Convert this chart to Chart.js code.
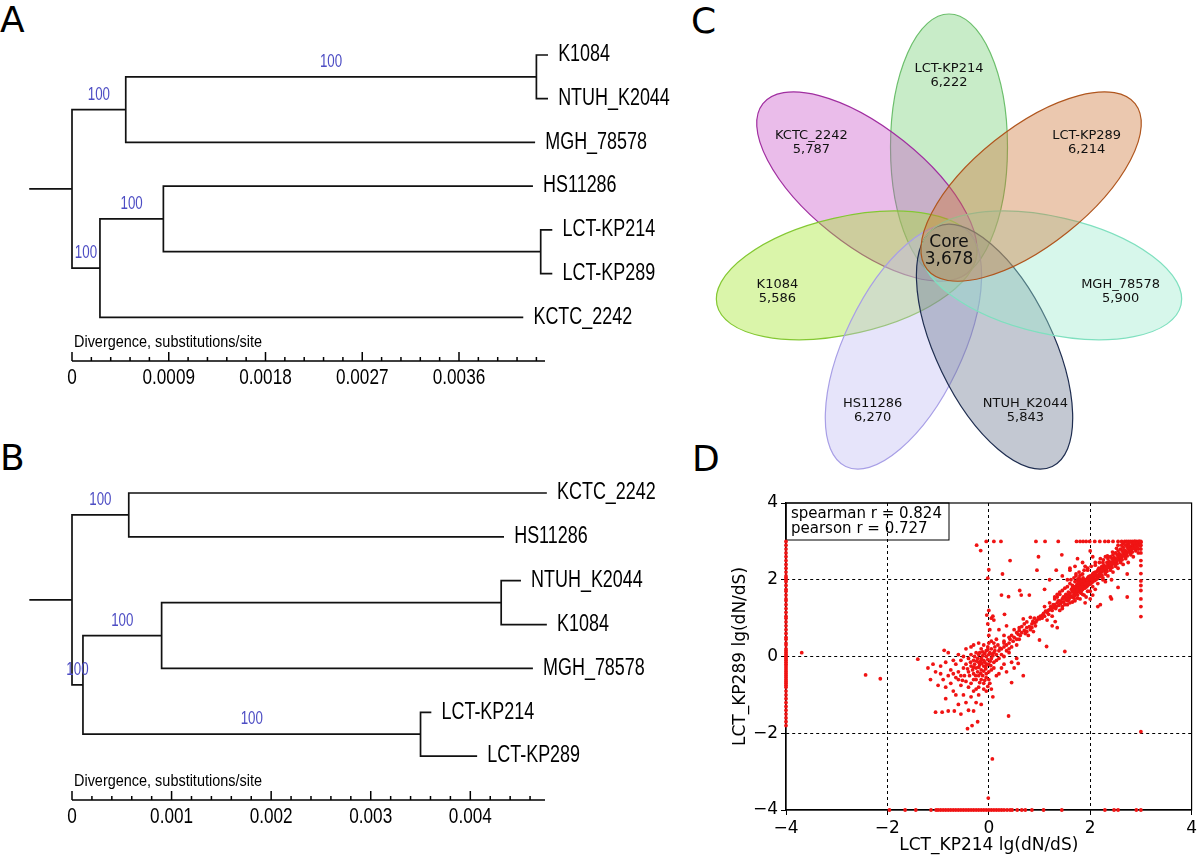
<!DOCTYPE html>
<html>
<head>
<meta charset="utf-8">
<script src="https://cdn.jsdelivr.net/npm/chart.js@4.4.1/dist/chart.umd.min.js"></script>
<style>
  body { margin: 0; background: #fff; width: 1200px; height: 856px; position: relative; overflow: hidden; }
  canvas { position: absolute; }
  .tag { position: absolute; font: 36px/36px "DejaVu Sans", sans-serif; color: #000; }
</style>
</head>
<body>
<div class="tag" style="left:0;top:2px">A</div>
<div class="tag" style="left:0;top:440px">B</div>
<div class="tag" style="left:691px;top:3px">C</div>
<div class="tag" style="left:692px;top:441px">D</div>
<canvas id="treeA" width="690" height="430" style="left:0;top:0"></canvas>
<canvas id="treeB" width="690" height="426" style="left:0;top:430px"></canvas>
<canvas id="venn" width="510" height="470" style="left:690px;top:0"></canvas>
<canvas id="scatter" width="510" height="386" style="left:690px;top:470px"></canvas>
<script>
// ---- data ----
// A: trees, leaves top to bottom, tip depth in substitutions/site
const namesA = ['K1084', 'NTUH_K2044', 'MGH_78578', 'HS11286', 'LCT-KP214', 'LCT-KP289', 'KCTC_2242'];
const tipsA = [0.00442, 0.00442, 0.00430, 0.00428, 0.00446, 0.00446, 0.00419];
// internal nodes: [depth, child, child, bootstrap]; ids go on after the leaves
const nodesA = [
  [0.00432, 0, 1, 100],
  [0.00050, 7, 2, 100],
  [0.00436, 4, 5, null],
  [0.00085, 3, 9, 100],
  [0.00026, 10, 6, 100],
  [0, 8, 11, null]
];
const ticksA = ['0', '0.0009', '0.0018', '0.0027', '0.0036'];

const namesB = ['KCTC_2242', 'HS11286', 'NTUH_K2044', 'K1084', 'MGH_78578', 'LCT-KP214', 'LCT-KP289'];
const tipsB = [0.00476, 0.00433, 0.00450, 0.00476, 0.00462, 0.00360, 0.00406];
const nodesB = [
  [0.00057, 0, 1, 100],
  [0.00431, 2, 3, null],
  [0.00090, 8, 4, 100],
  [0.00350, 5, 6, 100],
  [0.00011, 9, 10, 100],
  [0, 7, 11, null]
];
const ticksB = ['0', '0.001', '0.002', '0.003', '0.004'];

// C: petals counter-clockwise from the top
const petalNames = ['LCT-KP214', 'KCTC_2242', 'K1084', 'HS11286', 'NTUH_K2044', 'MGH_78578', 'LCT-KP289'];
const petalCounts = [6222, 5787, 5586, 6270, 5843, 5900, 6214];
const coreCount = 3678;

// D: lg(dN/dS) scatter
const dTicks = [-4, -2, 0, 2, 4];
const leftEdgeY = [3.0, 2.9, 2.8, 2.7, 2.6, 2.5, 2.4, 2.3, 2.2, 2.1, 2.05, 2.0, 1.95, 1.85, 1.75, 1.7, 1.6, 1.5, 1.45,
  1.35, 1.25, 1.15, 1.05, 1.0, 0.9, 0.8, 0.7, 0.6, 0.5, 0.45, 0.35, 0.3, 0.2, 0.15, 0.1, 0.05, 0.0, -0.05, -0.1,
  -0.15, -0.2, -0.25, -0.3, -0.35, -0.4, -0.45, -0.5, -0.55, -0.6, -0.65, -0.7, -0.75, -0.8, -0.9, -1.0, -1.1,
  -1.2, -1.3, -1.4, -1.5, -1.6, -1.7, -1.8];
const bottomEdgeX = [-1.96, -1.65, -1.44, -1.14, -1.04, -1.0, -0.95, -0.9, -0.85, -0.8, -0.75, -0.7, -0.65, -0.6,
  -0.55, -0.5, -0.45, -0.4, -0.35, -0.3, -0.25, -0.2, -0.15, -0.1, -0.05, 0.0, 0.05, 0.1, 0.15, 0.2, 0.25, 0.3,
  0.36, 0.42, 0.46, 0.56, 0.65, 0.72, 0.85, 1.08, 1.44, 2.29, 2.47, 2.55, 2.91, 3.0];
const topEdgeX = [-0.05, 0.1, 0.24, 0.93, 1.11, 1.37, 1.73, 1.8, 1.86, 1.92, 1.99, 2.09, 2.19, 2.29, 2.36, 2.45,
  2.55, 2.62, 2.68, 2.72, 2.76, 2.8, 2.84, 2.88, 2.92, 2.96, 3.0];
const rightEdgeY = [2.9, 2.8, 2.7, 2.5, 2.37, 2.16, 1.97, 1.85, 1.72, 1.5, 1.3, 1.04, -1.96];
const cloud = [
  // blob round the origin
  [-0.1, -0.1], [-0.05, 0], [0, 0.05], [-0.15, -0.05], [-0.2, -0.15], [-0.1, -0.25], [0.05, -0.05], [0.1, 0.1],
  [-0.05, 0.15], [-0.25, -0.3], [-0.15, -0.35], [0, -0.2], [0.05, 0.2], [-0.3, -0.1], [-0.2, 0.05], [0.1, -0.15],
  [-0.1, 0.3], [0, 0.35], [-0.05, -0.45], [-0.2, -0.5], [-0.3, -0.45], [-0.15, -0.6], [-0.35, -0.25], [-0.4, -0.05],
  [0.15, 0.05], [0.2, 0.15], [0.15, -0.1], [-0.25, 0.1], [0.05, 0.4], [-0.08, -0.15], [-0.12, 0.02], [-0.02, -0.08],
  [0.02, 0.1], [-0.18, -0.22], [-0.28, -0.2], [-0.06, -0.32], [0.08, 0.02], [-0.22, -0.4], [-0.12, -0.5],
  [-0.32, -0.35], [0.12, 0.25], [-0.02, 0.25], [-0.4, -0.4], [-0.45, -0.2], [-0.1, -0.7], [0, -0.6], [0.05, -0.35],
  [0.2, -0.05], [0.25, 0.05], [-0.15, 0.2], [0.1, -0.3], [-0.35, 0.05], [-0.05, -0.55], [0.02, -0.7], [-0.25, -0.6],
  [-0.3, -0.6], [-0.5, -0.3], [-0.55, -0.1], [-0.48, -0.5], [-0.16, -0.12], [-0.04, -0.2], [0.03, -0.12],
  [-0.22, -0.05], [-0.08, 0.08], [-0.14, -0.18], [-0.06, -0.26], [0.06, 0.06], [-0.24, -0.12], [-0.18, 0.1],
  [0.04, -0.24], [-0.1, -0.38], [-0.26, -0.5], [-0.16, -0.44], [-0.36, -0.15], [0.12, 0.15], [0.18, 0.3],
  [0.22, 0.22], [-0.02, 0.18], [-0.3, -0.28], [-0.42, -0.32], [-0.2, -0.28], [-0.08, -0.62], [-0.18, -0.68],
  [0.1, 0.35], [-0.12, 0.12], [0.0, -0.4], [-0.28, 0.0], [-0.38, -0.5], [-0.6, -0.4], [-0.52, -0.62], [-0.65, -0.2],
  [-0.02, -0.78], [-0.6, -0.6], [-0.7, -0.45], [-0.55, -0.5], [-0.45, -0.65], [-0.35, -0.7], [-0.4, -0.8],
  [-0.3, -0.9], [-0.2, -0.8], [-0.1, -0.85], [0.15, -0.5], [0.25, -0.3], [0.3, 0.0], [0.35, 0.15], [0.15, 0.45],
  [-0.2, 0.35], [-0.35, 0.25], [-0.5, 0.0],
  // scatter round the blob
  [-1.2, -0.3], [-1.1, -0.2], [-1.05, -0.4], [-0.95, -0.25], [-0.85, -0.15], [-0.9, -0.6], [-1.0, -0.75],
  [-0.75, -0.35], [-0.7, -0.1], [-0.65, -0.55], [-0.6, 0.05], [-0.8, 0.1], [-0.55, -0.75], [-0.7, -0.9],
  [-0.85, -1.1], [-1.05, -1.45], [-0.92, -1.45], [-0.8, -1.42], [-0.68, -1.42], [-0.4, -1.4], [-0.3, -1.42],
  [-0.42, -1.88], [-0.33, -1.8], [-0.22, -1.7], [-0.5, -1.0], [-0.45, -1.2], [-0.35, -1.05], [-0.25, -0.85],
  [-0.2, -1.0], [-0.15, -1.25], [-0.05, -0.9], [0.05, -0.85], [0.08, -1.05], [-0.6, -1.25], [-0.75, -0.7],
  [0.2, -0.45], [0.3, -0.2], [0.35, -0.4], [0.45, -0.15], [0.5, -0.3], [0.55, -0.05], [0.58, -0.18], [0.68, -0.5],
  [0.45, -0.68], [0.39, -1.55], [-1.4, -0.07], [-0.88, 0.16], [0.3, 0.35], [-0.3, 0.3], [-0.45, 0.2], [0.4, 0.1],
  [-0.8, -0.5], [-0.95, -0.45], [-1.15, -0.6], [-0.85, -0.8], [-0.65, -1.0], [-0.55, -1.5], [-0.25, -1.2],
  [-3.69, 0.1], [-2.43, -0.48], [-2.14, -0.58], [-0.01, -3.69], [0.07, -2.67],
  // along the x = 0 line
  [0.0, 0.55], [0.02, 0.7], [-0.02, 0.85], [0.05, 1.0], [-0.04, 1.08], [0.08, 1.05], [0.1, 0.95], [0.0, 1.2],
  // band 0.2 .. 1.0
  [0.25, 0.2], [0.3, 0.25], [0.35, 0.3], [0.4, 0.35], [0.42, 0.45], [0.48, 0.4], [0.5, 0.5], [0.55, 0.45],
  [0.58, 0.58], [0.62, 0.55], [0.65, 0.62], [0.7, 0.68], [0.72, 0.6], [0.75, 0.75], [0.8, 0.78], [0.82, 0.7],
  [0.85, 0.85], [0.9, 0.88], [0.92, 0.8], [0.95, 0.95], [1.0, 0.98], [1.02, 1.05], [0.6, 0.75], [0.7, 0.85],
  [0.5, 0.7], [0.45, 0.25], [0.55, 0.3], [0.78, 0.55], [0.88, 0.65], [0.3, 0.55], [0.35, 0.8], [0.2, 0.7],
  [0.68, 0.98], [0.82, 1.02], [0.93, 0.9], [0.87, 0.92], [0.98, 1.02], [1.06, 1.08], [0.3, 0.4], [0.4, 0.5],
  [0.45, 0.55], [0.55, 0.62], [0.6, 0.68], [0.65, 0.78], [0.75, 0.65], [0.85, 0.75], [0.9, 1.0], [0.75, 0.9],
  [0.4, 0.2], [0.6, 0.45],
  // band 1.0 .. 1.6
  [1.05, 1.0], [1.08, 1.12], [1.1, 1.05], [1.15, 1.15], [1.18, 1.1], [1.2, 1.22], [1.22, 1.3], [1.25, 1.2],
  [1.28, 1.28], [1.3, 1.35], [1.32, 1.25], [1.35, 1.4], [1.38, 1.33], [1.4, 1.45], [1.42, 1.38], [1.45, 1.5],
  [1.48, 1.42], [1.5, 1.55], [1.52, 1.48], [1.55, 1.6], [1.55, 1.45], [1.58, 1.52], [1.6, 1.65], [1.6, 1.4],
  [1.3, 1.5], [1.4, 1.62], [1.2, 1.4], [1.5, 1.35], [1.15, 0.95], [1.25, 1.05], [1.45, 1.25], [1.1, 1.3],
  [1.35, 1.55], [1.0, 0.43], [1.14, 0.26], [1.31, 0.91], [1.5, 0.13], [1.25, 0.8], [1.35, 0.75],
  [1.12, 1.18], [1.17, 1.2], [1.23, 1.25], [1.27, 1.35], [1.33, 1.3], [1.37, 1.45], [1.43, 1.42], [1.47, 1.55],
  [1.53, 1.52], [1.57, 1.58], [1.4, 1.2], [1.45, 1.3], [1.55, 1.35], [1.3, 1.55], [1.35, 1.62], [1.4, 1.68],
  [1.45, 1.72], [1.5, 1.78], [1.55, 1.82],
  // blob 1.6 .. 2.2
  [1.62, 1.58], [1.65, 1.7], [1.68, 1.62], [1.7, 1.75], [1.72, 1.68], [1.75, 1.82], [1.75, 1.6], [1.78, 1.75],
  [1.8, 1.9], [1.8, 1.7], [1.82, 1.82], [1.85, 1.95], [1.85, 1.75], [1.88, 1.88], [1.9, 2.0], [1.9, 1.8],
  [1.92, 1.92], [1.95, 2.05], [1.95, 1.85], [1.98, 1.98], [2.0, 2.1], [2.0, 1.9], [2.02, 2.02], [2.05, 2.15],
  [2.05, 1.95], [2.08, 2.08], [2.1, 2.2], [2.1, 2.0], [2.12, 2.12], [2.15, 2.25], [2.15, 2.05], [2.18, 2.15],
  [2.2, 2.28], [1.7, 1.95], [1.75, 2.0], [1.65, 1.85], [1.78, 2.05], [1.6, 1.9], [1.72, 2.1], [1.85, 2.15],
  [1.95, 2.25], [1.88, 1.6], [1.92, 1.55], [2.0, 1.7], [2.05, 1.6], [1.8, 1.5], [1.7, 1.45], [2.1, 1.75],
  [2.15, 1.3], [2.2, 1.35], [2.0, 1.5], [1.9, 1.4], [1.82, 1.65], [1.68, 1.52], [1.65, 1.78], [1.74, 1.88],
  [1.86, 1.82], [1.96, 1.96], [2.06, 2.04], [1.78, 2.2], [1.9, 2.35], [1.85, 2.45], [1.75, 2.55], [1.7, 2.35],
  [1.6, 2.25], [1.55, 2.0], [2.25, 2.0], [2.3, 1.95], [2.4, 1.55], [2.42, 1.5],
  [1.52, 1.62], [1.57, 1.68], [1.63, 1.75], [1.67, 1.68], [1.72, 1.8], [1.77, 1.85], [1.83, 1.88], [1.87, 1.98],
  [1.93, 2.0], [1.97, 2.08], [2.03, 2.1], [2.07, 2.18], [2.13, 2.2], [2.17, 2.3], [1.58, 1.48], [1.63, 1.55],
  [1.69, 1.58], [1.73, 1.65], [1.79, 1.68], [1.83, 1.72], [1.89, 1.78], [1.93, 1.82], [1.99, 1.88], [2.03, 1.92],
  [2.09, 1.98], [2.13, 2.02], [2.19, 2.08], [1.76, 1.95], [1.81, 2.0], [1.84, 1.85], [1.89, 1.92], [1.94, 1.9],
  [1.99, 2.03], [2.04, 2.0], [2.09, 2.12], [2.14, 2.1], [2.19, 2.22], [1.65, 1.42], [1.75, 1.52], [1.85, 1.62],
  [1.95, 1.7], [2.05, 1.82], [2.15, 1.9], [1.62, 2.0], [1.68, 2.05], [1.72, 2.15], [1.8, 2.12], [1.88, 2.25],
  [1.95, 2.3], [2.02, 2.35], [2.1, 2.38], [1.76, 1.78], [1.8, 1.8], [1.84, 1.9], [1.88, 1.95], [1.92, 1.86],
  [1.96, 1.92], [1.78, 1.92], [1.82, 1.96], [1.7, 1.82], [1.74, 1.72], [1.86, 2.05], [1.9, 1.9],
  // band 2.2 .. 3.0
  [2.22, 2.2], [2.25, 2.3], [2.28, 2.25], [2.3, 2.35], [2.32, 2.28], [2.35, 2.4], [2.38, 2.35], [2.4, 2.45],
  [2.42, 2.38], [2.45, 2.5], [2.48, 2.45], [2.5, 2.55], [2.52, 2.48], [2.55, 2.6], [2.58, 2.55], [2.6, 2.65],
  [2.62, 2.58], [2.65, 2.7], [2.68, 2.65], [2.7, 2.75], [2.72, 2.68], [2.75, 2.8], [2.78, 2.75], [2.8, 2.85],
  [2.82, 2.78], [2.85, 2.88], [2.88, 2.82], [2.9, 2.9], [2.92, 2.85], [2.95, 2.92], [2.98, 2.95], [3.0, 2.98],
  [2.25, 2.45], [2.35, 2.55], [2.45, 2.65], [2.55, 2.75], [2.65, 2.85], [2.75, 2.92], [2.3, 2.15], [2.4, 2.25],
  [2.5, 2.35], [2.6, 2.45], [2.7, 2.55], [2.8, 2.65], [2.9, 2.75], [2.95, 2.8], [2.85, 2.95], [2.7, 2.9],
  [2.6, 2.8], [2.5, 2.7], [2.4, 2.6], [2.2, 2.55], [2.1, 2.45], [2.55, 1.8], [2.73, 2.15], [2.73, 1.55],
  [2.42, 2.0], [2.3, 2.6], [2.05, 2.6], [2.0, 2.75], [2.78, 2.98], [2.88, 3.0], [2.95, 2.98], [2.65, 2.95],
  [2.55, 2.9], [2.23, 2.35], [2.27, 2.38], [2.33, 2.45], [2.37, 2.48], [2.43, 2.55], [2.47, 2.58], [2.53, 2.65],
  [2.57, 2.68], [2.63, 2.75], [2.67, 2.78], [2.73, 2.85], [2.77, 2.88], [2.83, 2.92], [2.87, 2.95], [2.93, 2.97],
  [2.97, 3.0], [2.23, 2.12], [2.29, 2.2], [2.33, 2.22], [2.39, 2.3], [2.43, 2.32], [2.49, 2.4], [2.53, 2.42],
  [2.59, 2.5], [2.63, 2.52], [2.69, 2.6], [2.73, 2.62], [2.79, 2.7], [2.83, 2.72], [2.89, 2.8], [2.93, 2.82],
  [2.99, 2.88], [2.24, 2.25], [2.29, 2.3], [2.34, 2.32], [2.39, 2.4], [2.44, 2.42], [2.49, 2.5], [2.54, 2.52],
  [2.59, 2.6], [2.64, 2.62], [2.69, 2.7], [2.74, 2.72], [2.79, 2.8], [2.84, 2.82], [2.89, 2.88], [2.94, 2.9],
  [2.99, 2.93], [2.25, 2.05], [2.35, 2.1], [2.45, 2.2], [2.55, 2.3], [2.65, 2.4], [2.75, 2.45], [2.85, 2.6],
  [2.95, 2.7], [2.18, 2.45], [2.26, 2.52], [2.34, 2.62], [2.44, 2.72], [2.52, 2.82], [2.62, 2.9], [2.72, 2.98],
  // outliers above the diagonal
  [1.44, 2.65], [0.98, 2.6], [1.33, 2.25], [1.6, 2.3], [0.42, 2.5], [-0.16, 2.76], [-0.24, 2.9], [0.27, 2.15],
  [-0.02, 2.04], [0.0, 2.26], [0.39, 1.56], [0.61, 1.72], [0.64, 1.6], [0.8, 1.6], [0.25, 1.6], [0.31, 1.1],
  [1.1, 1.75], [1.2, 2.0], [0.95, 2.25], [1.45, 2.1]
];
const spearman = 0.824;
const pearson = 0.727;

Chart.defaults.animation = false;
Chart.defaults.events = [];

// stretched narrow text like the tree figure
function txt(ctx, s, x, y, size, sx, align, base, color) {
  ctx.save();
  ctx.translate(x, y);
  ctx.scale(sx, 1);
  ctx.font = size + 'px "Liberation Sans", Arial, sans-serif';
  ctx.fillStyle = color || '#000';
  ctx.textAlign = align;
  ctx.textBaseline = base;
  ctx.fillText(s, 0, 0);
  ctx.restore();
}

function treeChart(id, names, tips, nodes, ticks, maxX, stem, padTop, padBottom) {
  const n = names.length;
  const depth = tips.slice();
  const ypos = names.map((_, i) => i);
  const parent = [];
  nodes.forEach((nd, k) => {
    depth[n + k] = nd[0];
    ypos[n + k] = (ypos[nd[1]] + ypos[nd[2]]) / 2;
    parent[nd[1]] = n + k;
    parent[nd[2]] = n + k;
  });
  const root = n + nodes.length - 1;
  const gap = { x: NaN, y: NaN };
  const seg = [];
  for (let i = 0; i < depth.length; i++) {
    const from = i === root ? stem : depth[parent[i]];
    seg.push({ x: from, y: ypos[i] }, { x: depth[i], y: ypos[i] }, gap);
  }
  nodes.forEach(nd => seg.push({ x: nd[0], y: ypos[nd[1]] }, { x: nd[0], y: ypos[nd[2]] }, gap));

  const labels = {
    id: 'treeLabels',
    afterDatasetsDraw(chart) {
      const { ctx, scales: { x, y } } = chart;
      // leaf names
      names.forEach((nm, i) => txt(ctx, nm, x.getPixelForValue(tips[i]) + 11, y.getPixelForValue(i), 23, 0.78, 'left', 'middle'));
      // bootstrap values over the branch leading to each node
      nodes.forEach((nd, k) => {
        if (nd[3] == null) return;
        const p = depth[parent[n + k]];
        const cx = (x.getPixelForValue(p) + x.getPixelForValue(nd[0])) / 2;
        txt(ctx, String(nd[3]), cx, y.getPixelForValue(ypos[n + k]) - 15, 18, 0.74, 'center', 'middle', '#4d4dc4');
      });
      // divergence axis
      const ay = chart.chartArea.bottom;
      const x0 = x.getPixelForValue(0);
      ctx.save();
      ctx.strokeStyle = '#000';
      ctx.lineWidth = 1.5;
      ctx.beginPath();
      ctx.moveTo(x0, ay);
      ctx.lineTo(x.getPixelForValue(maxX), ay);
      const step = parseFloat(ticks[1]) / 5;
      for (let k = 0; k * step <= maxX; k++) {
        const px = x.getPixelForValue(k * step);
        ctx.moveTo(px, ay);
        ctx.lineTo(px, ay - (k % 5 === 0 ? 9 : 4));
      }
      ctx.stroke();
      ctx.restore();
      ticks.forEach(t => txt(ctx, t, x.getPixelForValue(parseFloat(t)), ay + 23, 22, 0.78, 'center', 'alphabetic'));
      txt(ctx, 'Divergence, substitutions/site', x0 + 2, ay - 14, 17, 0.85, 'left', 'alphabetic');
    }
  };

  return new Chart(document.getElementById(id), {
    type: 'scatter',
    data: {
      datasets: [{
        data: seg,
        showLine: true,
        spanGaps: false,
        borderColor: '#111',
        borderWidth: 1.7,
        borderCapStyle: 'square',
        pointRadius: 0,
        clip: false
      }]
    },
    options: {
      responsive: false,
      layout: { padding: { left: 72, right: 145, top: padTop, bottom: padBottom } },
      plugins: { legend: { display: false }, tooltip: { enabled: false } },
      scales: {
        x: { type: 'linear', min: 0, max: maxX, display: false },
        y: { type: 'linear', min: 0, max: 7, reverse: true, display: false }
      }
    },
    plugins: [labels]
  });
}

treeChart('treeA', namesA, tipsA, nodesA, ticksA, 0.0044, -0.00039, 55, 69);
treeChart('treeB', namesB, tipsB, nodesB, ticksB, 0.00475, -0.00042, 63, 56);

// ---- C: flower diagram ----
const petalFill = ['rgba(117,207,117,0.4)', 'rgba(200,80,200,0.38)', 'rgba(162,230,42,0.4)', 'rgba(192,187,242,0.4)',
  'rgba(105,117,142,0.4)', 'rgba(155,235,205,0.4)', 'rgba(205,117,55,0.4)'];
const petalLine = ['#6cbf6c', '#a02ea0', '#84c832', '#a89fe6', '#1e2d50', '#7fe0bf', '#b0561e'];

const flower = {
  id: 'flower',
  afterDatasetsDraw(chart) {
    const { ctx, scales: { x, y } } = chart;
    const step = Math.PI * 2 / petalNames.length;
    ctx.save();
    petalNames.forEach((nm, i) => {
      const th = Math.PI / 2 + i * step;
      const cx = x.getPixelForValue(105 * Math.cos(th));
      const cy = y.getPixelForValue(105 * Math.sin(th));
      ctx.beginPath();
      ctx.ellipse(cx, cy, 133, 58.5, -th, 0, Math.PI * 2);
      ctx.fillStyle = petalFill[i];
      ctx.fill();
      ctx.strokeStyle = petalLine[i];
      ctx.lineWidth = 1.2;
      ctx.stroke();
    });
    ctx.fillStyle = '#111';
    ctx.textAlign = 'center';
    ctx.textBaseline = 'middle';
    ctx.font = '13px "DejaVu Sans", sans-serif';
    petalNames.forEach((nm, i) => {
      const th = Math.PI / 2 + i * step;
      const lx = x.getPixelForValue(176 * Math.cos(th));
      const ly = y.getPixelForValue(176 * Math.sin(th));
      ctx.fillText(nm, lx, ly - 7);
      ctx.fillText(petalCounts[i].toLocaleString('en-US'), lx, ly + 7);
    });
    ctx.font = '17px "DejaVu Sans", sans-serif';
    const ox = x.getPixelForValue(0), oy = y.getPixelForValue(0);
    ctx.fillText('Core', ox, oy - 9);
    ctx.fillText(coreCount.toLocaleString('en-US'), ox, oy + 8);
    ctx.restore();
  }
};

new Chart(document.getElementById('venn'), {
  type: 'scatter',
  data: { datasets: [{ data: [] }] },
  options: {
    responsive: false,
    layout: { padding: 0 },
    plugins: { legend: { display: false }, tooltip: { enabled: false } },
    scales: {
      x: { type: 'linear', min: -259, max: 251, display: false },
      y: { type: 'linear', min: -218, max: 252, display: false }
    }
  },
  plugins: [flower]
});

// ---- D: scatter ----
const pts = [];
leftEdgeY.forEach(v => pts.push({ x: -4, y: v }));
bottomEdgeX.forEach(v => pts.push({ x: v, y: -4 }));
topEdgeX.forEach(v => pts.push({ x: v, y: 3 }));
rightEdgeY.forEach(v => pts.push({ x: 3, y: v }));
cloud.forEach(p => pts.push({ x: p[0], y: p[1] }));

const dFont = { family: '"DejaVu Sans", sans-serif', size: 17 };
const minus = v => (v < 0 ? '\u2212' + Math.abs(v) : String(v));
const dAxis = (title, fit) => ({
  type: 'linear',
  min: -4,
  max: 4,
  afterBuildTicks: s => { s.ticks = dTicks.map(v => ({ value: v })); },
  afterFit: fit,
  ticks: { font: dFont, color: '#000', padding: 3, callback: minus, maxRotation: 0 },
  grid: {
    color: c => (Math.abs(c.tick && c.tick.value) === 4 ? 'rgba(0,0,0,0)' : '#000'),
    lineWidth: 1,
    tickColor: '#000',
    tickLength: 5
  },
  border: { display: true, color: '#000', width: 1.2, dash: [3, 3] },
  title: { display: true, text: title, font: dFont, color: '#000' }
});

const frame = {
  id: 'frame',
  beforeDatasetsDraw(chart) {
    const { ctx, chartArea: a } = chart;
    ctx.save();
    ctx.strokeStyle = '#000';
    ctx.lineWidth = 1.2;
    ctx.strokeRect(a.left, a.top, a.right - a.left, a.bottom - a.top);
    // correlation box
    ctx.lineWidth = 1;
    ctx.strokeRect(a.left, a.top, 163, 37);
    ctx.fillStyle = '#000';
    ctx.font = '15px "DejaVu Sans", sans-serif';
    ctx.textBaseline = 'middle';
    ctx.fillText('spearman r = ' + spearman.toFixed(3), a.left + 5, a.top + 11);
    ctx.fillText('pearson r = ' + pearson.toFixed(3), a.left + 5, a.top + 26);
    ctx.restore();
  }
};

const xAxis = dAxis('LCT_KP214 lg(dN/dS)', s => { s.height = 46; });
xAxis.title.padding = { top: 0, bottom: 0 };
const yAxis = dAxis('LCT_KP289 lg(dN/dS)', s => { s.width = 96; });
yAxis.title.padding = { top: 40, bottom: 0 };

new Chart(document.getElementById('scatter'), {
  type: 'scatter',
  data: {
    datasets: [{
      data: pts,
      pointRadius: 1.9,
      pointBorderWidth: 0,
      backgroundColor: '#f01414',
      clip: false
    }]
  },
  options: {
    responsive: false,
    layout: { padding: { left: 0, top: 33, right: 6, bottom: 0 } },
    plugins: { legend: { display: false }, tooltip: { enabled: false } },
    scales: { x: xAxis, y: yAxis }
  },
  plugins: [frame]
});
</script>
</body>
</html>
